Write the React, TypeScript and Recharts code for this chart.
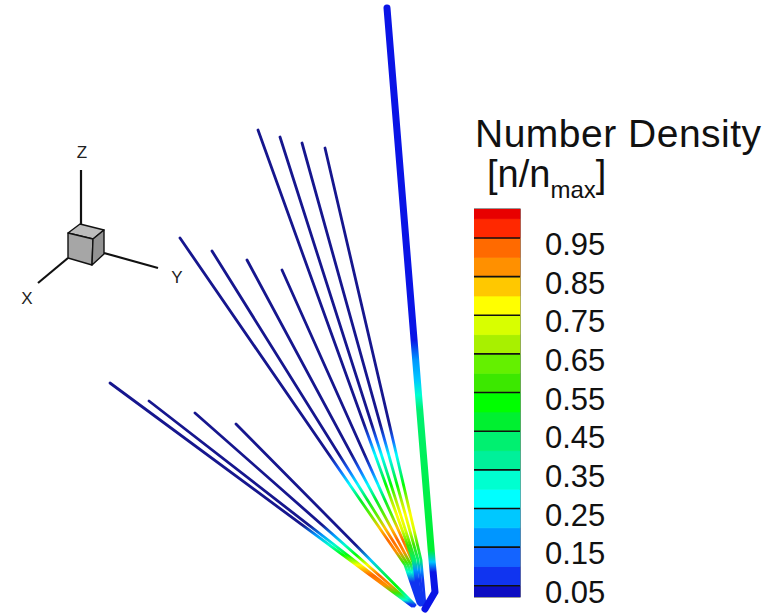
import React from 'react'
import {
  ComposedChart,
  Line,
  XAxis,
  YAxis,
  BarChart,
  Bar,
  ReferenceLine,
  ReferenceArea,
  Customized
} from 'recharts'

const WIDTH = 780
const HEIGHT = 614
const FONT = '"Liberation Sans", Arial, Helvetica, sans-serif'

// Tecplot-like banded rainbow, one colour per 0.05 of n/n_max (0.00 .. 1.05)
const bandColors = [
  '#0c0cc2', '#1034f0', '#1464ff', '#0096ff', '#00c8ff', '#00ffff', '#00ffd0',
  '#00f09a', '#00f070', '#00f030', '#00ff00', '#3ce800', '#64f000', '#a8f000',
  '#d8ff00', '#ffff00', '#ffc800', '#ff9000', '#ff6a00', '#ff2800', '#e80000'
]
const lineNavy = '#16168e'
const coreBlue = '#0a14e6'
const cbTicks = [0.05, 0.15, 0.25, 0.35, 0.45, 0.55, 0.65, 0.75, 0.85, 0.95]
const cbDomain = [0.021, 1.025]

// streamlines in projected view coordinates (x to the right, y downwards)
const upperLines = [
  [{ x: 258, y: 130 }, { x: 413, y: 560 }, { x: 420, y: 604 }],
  [{ x: 280, y: 137 }, { x: 415, y: 560 }, { x: 421, y: 604 }],
  [{ x: 302, y: 143 }, { x: 418, y: 560 }, { x: 423, y: 605 }],
  [{ x: 325, y: 148 }, { x: 421, y: 560 }, { x: 425, y: 605 }]
]
const middleLines = [
  [{ x: 180, y: 238 }, { x: 405, y: 565 }, { x: 418, y: 603 }],
  [{ x: 212, y: 251 }, { x: 408, y: 565 }, { x: 419, y: 604 }],
  [{ x: 247, y: 260 }, { x: 411, y: 565 }, { x: 420, y: 605 }],
  [{ x: 282, y: 270 }, { x: 414, y: 565 }, { x: 421, y: 605 }]
]
const lowerLines = [
  [{ x: 110, y: 383 }, { x: 412, y: 606 }],
  [{ x: 149, y: 401 }, { x: 413, y: 606 }],
  [{ x: 195, y: 413 }, { x: 414, y: 606 }]
]
const lowerTopLine = [{ x: 236, y: 424 }, { x: 415, y: 605 }]
const jetCore = [{ x: 387, y: 8 }, { x: 432, y: 560 }, { x: 435, y: 592 }, { x: 425, y: 609 }]

// number density along each streamline, as [y, n/n_max]
const upperProfile = [
  [130, 0.02], [425, 0.03], [440, 0.12], [455, 0.25], [470, 0.36], [485, 0.5], [500, 0.66],
  [515, 0.77], [530, 0.72], [545, 0.56], [560, 0.42], [570, 0.18], [580, 0.07], [605, 0.07]
]
const middleProfile = [
  [238, 0.02], [455, 0.03], [470, 0.12], [485, 0.28], [500, 0.46], [515, 0.62], [528, 0.82],
  [540, 0.93], [552, 0.86], [562, 0.55], [572, 0.3], [582, 0.08], [605, 0.07]
]
const lowerProfile = [
  [383, 0.02], [525, 0.03], [535, 0.15], [545, 0.3], [555, 0.5], [565, 0.76], [575, 0.93],
  [585, 0.88], [593, 0.55], [600, 0.3], [604, 0.08], [607, 0.07]
]
const lowerTopProfile = [
  [424, 0.02], [545, 0.03], [560, 0.22], [572, 0.42], [586, 0.52], [598, 0.3], [605, 0.08]
]
const coreProfile = [
  [8, 0.04], [340, 0.04], [360, 0.15], [380, 0.24], [395, 0.33], [410, 0.41], [550, 0.45],
  [562, 0.2], [572, 0.04], [609, 0.04]
]

// axis triad (view coordinates)
const triadZ = [{ x: 81, y: 224 }, { x: 81, y: 170 }]
const triadY = [{ x: 104, y: 253 }, { x: 158, y: 268 }]
const triadX = [{ x: 68, y: 258 }, { x: 38, y: 283 }]
const cubeFaces = [
  { pts: [[68, 233], [80, 224], [104, 230], [93, 239]], fill: '#bcbcbc' },
  { pts: [[68, 233], [93, 239], [92, 265], [68, 258]], fill: '#a6a6a6' },
  { pts: [[93, 239], [104, 230], [104, 254], [92, 265]], fill: '#939393' }
]
const triadLabels = [
  { text: 'Z', x: 82, y: 152 },
  { text: 'Y', x: 177, y: 277 },
  { text: 'X', x: 27, y: 298 }
]

const bandOf = (d: number) => Math.max(0, Math.min(bandColors.length - 1, Math.floor(d / 0.05 + 1e-9)))

const streamlines = [
  ...lowerLines.map((points, i) => ({ id: `low${i}`, points, profile: lowerProfile, width: 2.8, base: lineNavy })),
  { id: 'lowTop', points: lowerTopLine, profile: lowerTopProfile, width: 2.8, base: lineNavy },
  ...middleLines.map((points, i) => ({ id: `mid${i}`, points, profile: middleProfile, width: 2.8, base: lineNavy })),
  ...upperLines.map((points, i) => ({ id: `up${i}`, points, profile: upperProfile, width: 2.8, base: lineNavy })),
  { id: 'core', points: jetCore, profile: coreProfile, width: 7, base: coreBlue }
]

const gradientStops = (points: { x: number; y: number }[], profile: number[][], base: string) => {
  const ys = points.map((p) => p.y)
  const y0 = Math.min(...ys)
  const y1 = Math.max(...ys)
  return profile.map(([y, d]) => ({
    offset: Math.max(0, Math.min(1, (y - y0) / (y1 - y0))),
    color: d < 0.05 ? base : bandColors[bandOf(d)]
  }))
}

// view coords -> svg pixels (chart has zero margins and domain = size)
const px = (x: number) => (x / WIDTH) * WIDTH
const py = (y: number) => (y / HEIGHT) * HEIGHT

const Overlay = () => (
  <g>
    {cubeFaces.map((f, i) => (
      <polygon
        key={i}
        points={f.pts.map(([x, y]) => `${px(x)},${py(y)}`).join(' ')}
        fill={f.fill}
        stroke="#111"
        strokeWidth={1.4}
        strokeLinejoin="round"
      />
    ))}
    {triadLabels.map((l) => (
      <text
        key={l.text}
        x={px(l.x)}
        y={py(l.y)}
        textAnchor="middle"
        dominantBaseline="central"
        fontFamily={FONT}
        fontSize={17}
        fill="#222"
      >
        {l.text}
      </text>
    ))}
    <text x={475} y={147} fontFamily={FONT} fontSize={39} letterSpacing={0.5} fill="#111">
      Number Density
    </text>
    <text x={487} y={187} fontFamily={FONT} fontSize={38} fill="#111">
      [n/n
      <tspan fontSize={24} dy={11}>max</tspan>
      <tspan dy={-11}>]</tspan>
    </text>
  </g>
)

const colorbarRow = [
  Object.fromEntries([['name', 'nd'], ...bandColors.map((_, i) => [`b${i}`, 0.05])])
]

const CbTick = (props: any) => {
  const { x, y, payload } = props
  return (
    <text x={x} y={y + 17} fontFamily={FONT} fontSize={31} fill="#111" textAnchor="start">
      {Number(payload.value).toFixed(2)}
    </text>
  )
}

export default function App() {
  return (
    <div style={{ position: 'absolute', left: 0, top: 0, width: WIDTH, height: HEIGHT, background: '#fff' }}>
      <div style={{ position: 'absolute', left: 0, top: 0 }}>
        <ComposedChart width={WIDTH} height={HEIGHT} margin={{ top: 0, right: 0, bottom: 0, left: 0 }}>
          <defs>
            {streamlines.map((s) => (
              <linearGradient key={s.id} id={`g-${s.id}`} x1="0" y1="0" x2="0" y2="1">
                {gradientStops(s.points, s.profile, s.base).map((st, i) => (
                  <stop key={i} offset={st.offset} stopColor={st.color} />
                ))}
              </linearGradient>
            ))}
          </defs>
          <XAxis type="number" dataKey="x" domain={[0, WIDTH]} hide allowDataOverflow />
          <YAxis type="number" domain={[0, HEIGHT]} reversed hide allowDataOverflow />
          {[triadZ, triadY, triadX].map((pts, i) => (
            <Line
              key={`triad${i}`}
              data={pts}
              dataKey="y"
              stroke="#111"
              strokeWidth={2.2}
              dot={false}
              activeDot={false}
              isAnimationActive={false}
            />
          ))}
          {streamlines.map((s) => (
            <Line
              key={s.id}
              data={s.points}
              dataKey="y"
              stroke={`url(#g-${s.id})`}
              strokeWidth={s.width}
              strokeLinecap="round"
              strokeLinejoin="round"
              dot={false}
              activeDot={false}
              isAnimationActive={false}
            />
          ))}
          <Customized component={Overlay} />
        </ComposedChart>
      </div>
      <div style={{ position: 'absolute', left: 474, top: 199 }}>
        <BarChart
          width={166}
          height={414}
          data={colorbarRow}
          margin={{ top: 10, right: 0, bottom: 16, left: 0 }}
          barCategoryGap={0}
        >
          <XAxis dataKey="name" hide />
          <YAxis
            orientation="right"
            width={120}
            domain={cbDomain}
            allowDataOverflow
            ticks={cbTicks}
            interval={0}
            axisLine={false}
            tickLine={false}
            tickSize={0}
            tickMargin={25}
            tick={<CbTick />}
          />
          {bandColors.map((c, i) => (
            <Bar
              key={i}
              dataKey={`b${i}`}
              stackId="cb"
              fill={c}
              stroke={c}
              strokeWidth={0.8}
              isAnimationActive={false}
            />
          ))}
          {cbTicks.map((t) => (
            <ReferenceLine key={t} y={t} stroke="#111" strokeWidth={1.6} />
          ))}
          <ReferenceArea y1={cbDomain[0]} y2={cbDomain[1]} fill="none" fillOpacity={0} stroke="#333" strokeWidth={1.2} />
        </BarChart>
      </div>
    </div>
  )
}
